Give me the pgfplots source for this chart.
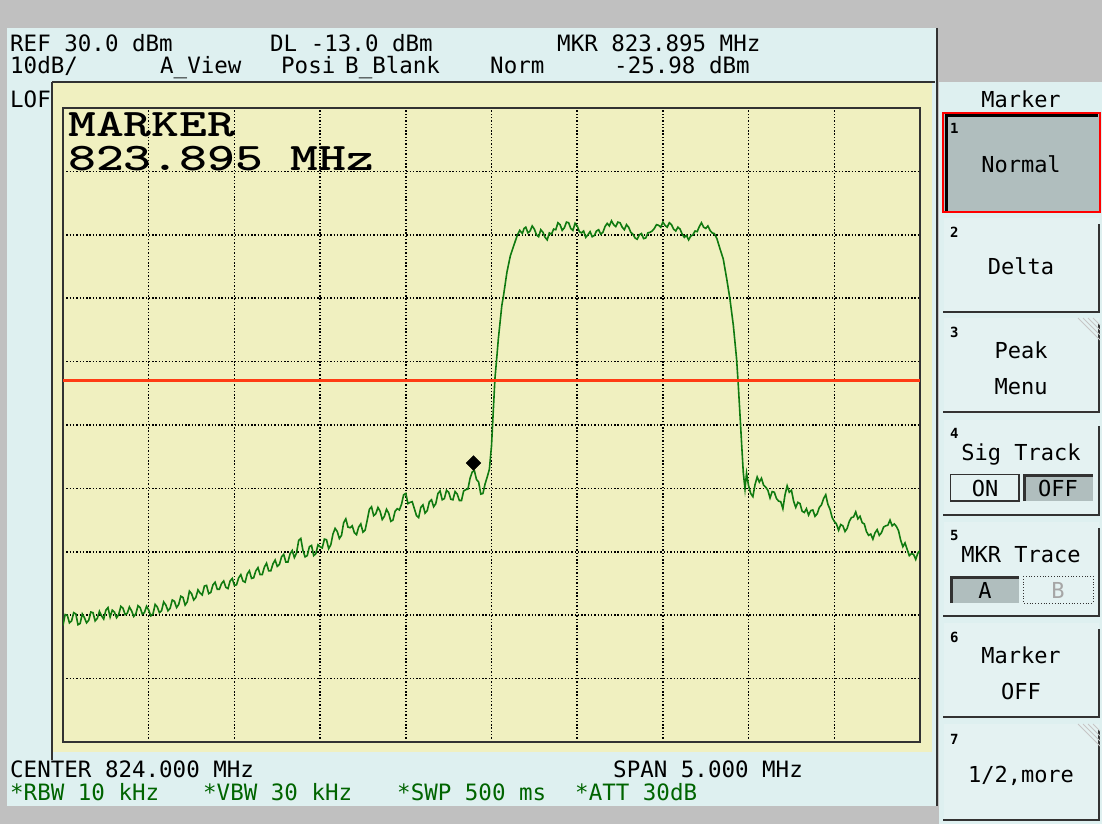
\documentclass[border=0pt]{standalone}
\usepackage{pgfplots}
\pgfplotsset{compat=1.18}
\usepackage{pgfplotstable}
\usepackage{fontspec}
\setmainfont{DejaVu Sans}
\newfontfamily\scr{DejaVu Sans Mono}
\definecolor{panel}{RGB}{222,240,240}
\definecolor{band}{RGB}{192,192,192}
\definecolor{plotbg}{RGB}{240,240,192}
\definecolor{trace}{RGB}{16,122,16}
\definecolor{dlred}{RGB}{255,60,20}
\definecolor{btngray}{RGB}{176,190,190}
\definecolor{txtgreen}{RGB}{0,100,0}
\definecolor{frame}{RGB}{50,50,50}
\definecolor{face}{RGB}{228,242,242}

\pgfplotstableread{
f p
821.500 -51.6
821.5125 -49.9
821.525 -50.0
821.5375 -51.2
821.550 -50.9
821.5625 -49.6
821.575 -49.8
821.5875 -51.5
821.600 -51.3
821.6125 -49.8
821.625 -50.4
821.6375 -51.2
821.650 -50.8
821.6625 -49.5
821.675 -49.6
821.6875 -50.9
821.700 -50.5
821.7125 -49.4
821.725 -50.1
821.7375 -50.6
821.750 -49.2
821.7625 -48.8
821.775 -50.3
821.7875 -49.2
821.800 -49.5
821.8125 -50.4
821.825 -49.9
821.8375 -48.6
821.850 -48.9
821.8625 -49.9
821.875 -49.7
821.8875 -48.7
821.900 -49.3
821.9125 -50.2
821.925 -49.8
821.9375 -48.5
821.950 -48.8
821.9625 -49.8
821.975 -49.6
821.9875 -48.6
822.000 -49.2
822.0125 -50.1
822.025 -49.8
822.0375 -48.3
822.050 -48.7
822.0625 -49.6
822.075 -49.3
822.0875 -47.9
822.100 -48.4
822.1125 -49.3
822.125 -48.9
822.1375 -47.6
822.150 -47.8
822.1625 -48.8
822.175 -48.3
822.1875 -47.0
822.200 -47.2
822.2125 -48.4
822.225 -47.9
822.2375 -46.2
822.250 -46.6
822.2625 -47.6
822.275 -47.2
822.2875 -46.0
822.300 -46.5
822.3125 -46.8
822.325 -45.4
822.3375 -45.3
822.350 -46.6
822.3625 -46.4
822.375 -45.2
822.3875 -44.8
822.400 -45.9
822.4125 -45.9
822.425 -45.0
822.4375 -44.6
822.450 -45.6
822.4625 -45.8
822.475 -44.6
822.4875 -44.2
822.500 -45.3
822.5125 -45.2
822.525 -44.1
822.5375 -43.6
822.550 -44.6
822.5625 -44.8
822.575 -43.5
822.5875 -43.0
822.600 -44.2
822.6125 -44.1
822.625 -43.0
822.6375 -42.5
822.650 -43.6
822.6625 -43.6
822.675 -42.4
822.6875 -41.8
822.700 -43.0
822.7125 -43.0
822.725 -41.9
822.7375 -41.3
822.750 -42.3
822.7625 -42.0
822.775 -40.8
822.7875 -40.4
822.800 -41.6
822.8125 -41.6
822.825 -40.3
822.8375 -39.8
822.850 -40.9
822.8625 -40.2
822.875 -38.2
822.8875 -37.9
822.900 -39.8
822.9125 -40.8
822.925 -40.6
822.9375 -39.2
822.950 -39.0
822.9625 -40.6
822.975 -40.3
822.9875 -38.9
823.000 -39.2
823.0125 -39.4
823.025 -38.0
823.0375 -38.1
823.050 -39.5
823.0625 -38.9
823.075 -37.2
823.0875 -36.3
823.100 -36.8
823.1125 -37.9
823.125 -37.4
823.1375 -35.4
823.150 -34.8
823.1625 -36.1
823.175 -36.2
823.1875 -35.9
823.200 -37.0
823.2125 -37.3
823.225 -36.1
823.2375 -35.6
823.250 -36.9
823.2625 -36.6
823.275 -35.0
823.2875 -33.3
823.300 -32.9
823.3125 -34.3
823.325 -34.0
823.3375 -33.0
823.350 -33.6
823.3625 -34.9
823.375 -34.4
823.3875 -33.3
823.400 -33.9
823.4125 -35.2
823.425 -35.0
823.4375 -33.6
823.450 -33.2
823.4625 -33.4
823.475 -32.5
823.4875 -31.0
823.500 -30.8
823.5125 -32.4
823.525 -32.2
823.5375 -32.1
823.550 -33.2
823.5625 -34.3
823.575 -34.6
823.5875 -33.0
823.600 -32.6
823.6125 -33.9
823.625 -33.5
823.6375 -32.1
823.650 -31.8
823.6625 -32.9
823.675 -32.4
823.6875 -30.8
823.700 -30.4
823.7125 -31.8
823.725 -31.6
823.7375 -30.3
823.750 -30.6
823.7625 -31.7
823.775 -31.8
823.7875 -30.5
823.800 -30.9
823.8125 -31.9
823.825 -31.9
823.8375 -30.4
823.850 -30.2
823.8625 -30.1
823.875 -28.4
823.8875 -27.4
823.900 -27.2
823.9125 -28.6
823.925 -29.0
823.9375 -30.9
823.950 -30.8
823.9625 -29.3
823.975 -28.2
823.9875 -27.0
824.000 -23.3
824.010 -18.0
824.020 -12.7
824.030 -9.6
824.040 -6.4
824.050 -3.8
824.060 -1.2
824.070 0.4
824.090 4.1
824.110 6.7
824.130 8.3
824.150 9.9
824.165 10.7
824.180 10.2
824.190 11.0
824.200 11.2
824.2125 10.3
824.225 10.6
824.2375 11.4
824.250 10.9
824.2625 10.0
824.275 9.7
824.2875 10.8
824.300 10.4
824.3125 9.6
824.325 9.2
824.3375 10.3
824.350 10.1
824.3625 10.9
824.375 10.8
824.3875 11.9
824.400 11.6
824.4125 10.7
824.425 11.1
824.4375 12.0
824.450 11.9
824.4625 11.0
824.475 10.7
824.4875 11.8
824.500 11.4
824.5125 10.5
824.525 10.3
824.5375 10.6
824.550 9.6
824.5625 10.0
824.575 10.5
824.5875 9.7
824.600 9.9
824.6125 10.6
824.625 10.8
824.6375 10.1
824.650 10.4
824.6625 11.3
824.675 11.8
824.6875 11.4
824.700 12.2
824.7125 11.6
824.725 11.3
824.7375 12.0
824.750 11.9
824.7625 11.2
824.775 10.8
824.7875 11.6
824.800 11.2
824.8125 10.4
824.825 10.1
824.8375 9.5
824.850 9.3
824.8625 10.0
824.875 10.2
824.8875 9.4
824.900 9.5
824.9125 10.3
824.925 10.4
824.9375 10.6
824.950 11.0
824.9625 11.6
824.975 11.5
824.9875 11.2
825.000 12.0
825.0125 11.5
825.025 11.2
825.0375 11.9
825.050 11.6
825.0625 10.9
825.075 10.6
825.0875 11.2
825.100 10.9
825.1125 10.1
825.125 9.6
825.1375 9.9
825.150 9.2
825.1625 9.8
825.175 10.0
825.1875 10.6
825.200 10.5
825.2125 11.3
825.225 11.9
825.2375 11.2
825.250 11.0
825.2625 11.4
825.275 10.7
825.2875 10.3
825.300 10.2
825.315 9.4
825.333 7.8
825.352 6.2
825.372 3.1
825.391 -0.1
825.411 -4.3
825.430 -9.6
825.440 -13.8
825.450 -18.5
825.460 -23.3
825.469 -27.5
825.479 -30.1
825.488 -27.6
825.500 -29.6
825.5125 -30.8
825.525 -31.3
825.5375 -29.4
825.550 -28.2
825.5625 -29.0
825.575 -28.4
825.5875 -29.5
825.600 -29.8
825.6125 -30.3
825.625 -31.5
825.6375 -30.5
825.650 -30.6
825.6625 -31.6
825.675 -32.0
825.6875 -32.1
825.700 -33.2
825.7125 -31.0
825.725 -29.6
825.7375 -30.6
825.750 -30.3
825.7625 -32.0
825.775 -33.0
825.7875 -32.2
825.800 -32.4
825.8125 -33.6
825.825 -33.8
825.8375 -33.2
825.850 -34.2
825.8625 -33.5
825.875 -33.4
825.8875 -34.4
825.900 -34.0
825.9125 -33.0
825.925 -32.6
825.9375 -31.6
825.950 -31.0
825.9625 -32.5
825.975 -33.3
825.9875 -34.6
826.000 -35.2
826.0125 -35.6
826.025 -36.6
826.0375 -35.7
826.050 -35.9
826.0625 -36.8
826.075 -36.3
826.0875 -35.2
826.100 -34.6
826.1125 -34.5
826.125 -33.7
826.1375 -34.8
826.150 -34.4
826.1625 -35.4
826.175 -35.6
826.1875 -36.8
826.200 -37.4
826.2125 -37.2
826.225 -38.0
826.2375 -37.0
826.250 -36.5
826.2625 -37.4
826.275 -37.0
826.2875 -36.1
826.300 -35.9
826.3125 -35.8
826.325 -35.0
826.3375 -35.9
826.350 -35.6
826.3625 -36.0
826.375 -36.7
826.3875 -38.2
826.400 -39.2
826.4125 -38.6
826.425 -39.6
826.4375 -40.6
826.450 -40.3
826.4625 -40.4
826.475 -41.2
826.4875 -40.2
826.500 -39.8
}\tracedata

\newcommand\btn[2]{%
  \fill[face] (944,#1) rectangle (1099,#2);
  \draw[frame,line width=2.5pt] (943,#2) -- (1099,#2) -- (1099,#1+6);
}
\newcommand\hatch[1]{%
  \foreach \k in {0,5,10,15}{\draw[gray!45,line width=0.8pt] (1078+\k,#1) -- (1100,#1+22-\k);}
}

\begin{document}
\begin{tikzpicture}
\begin{scope}[x=1pt,y=-1pt]
\fill[band] (0,0) rectangle (1102,824);
\fill[panel] (7,28) rectangle (937,806);
\fill[panel] (939,82) rectangle (1102,824);
\fill[plotbg] (53,83) rectangle (932,752);
\draw[frame,line width=1.5pt] (52,82) -- (935,82);
\draw[frame,line width=1.5pt] (52,82) -- (52,760);
\draw[frame,line width=2pt] (937,28) -- (937,806);
\begin{scope}[every node/.style={anchor=base west,inner sep=0pt,font=\scr\fontsize{22.5}{24}\selectfont}]
\node at (10,52) {REF 30.0 dBm};
\node at (270,52) {DL -13.0 dBm};
\node at (557,52) {MKR 823.895 MHz};
\node at (10,74) {10dB/};
\node at (160,74) {A\_View};
\node at (281,74) {Posi};
\node at (345,74) {B\_Blank};
\node at (490,74) {Norm};
\node at (614,74) {-25.98 dBm};
\node at (10,107) {LOF};
\node at (10,777) {CENTER 824.000 MHz};
\node at (613,777) {SPAN 5.000 MHz};
\node[text=txtgreen] at (10,800) {*RBW 10 kHz};
\node[text=txtgreen] at (203,800) {*VBW 30 kHz};
\node[text=txtgreen] at (397,800) {*SWP 500 ms};
\node[text=txtgreen] at (575,800) {*ATT 30dB};
\end{scope}
% right panel buttons
\fill[btngray] (943,113) rectangle (1100,212);
\draw[black,line width=3pt] (946,211) -- (946,116) -- (1098,116);
\draw[red,line width=1.5pt] (943,113) rectangle (1100,212);
\btn{218}{312}
\btn{318}{412}\hatch{318}
\btn{420}{515}
\btn{522}{616}
\btn{623}{717}
\btn{724}{820}\hatch{724}
% ON / OFF
\fill[face] (950,474) rectangle (1019,501);
\draw[frame,line width=1pt] (950,501) -- (950,474) -- (1019,474);
\draw[frame,line width=2pt] (950,501) -- (1019,501) -- (1019,474);
\fill[btngray] (1023,474) rectangle (1093,501);
\draw[frame,line width=3pt] (1024,501) -- (1024,475) -- (1093,475);
% A / B
\fill[btngray] (950,576) rectangle (1019,603);
\draw[frame,line width=3pt] (951,603) -- (951,577) -- (1019,577);
\draw[frame,line width=0.8pt,dotted] (1023,576) rectangle (1093,603);
\begin{scope}[every node/.style={anchor=base,inner sep=0pt,font=\scr\fontsize{22}{24}\selectfont}]
\node at (1021,108) {Marker};
\node at (1021,172) {Normal};
\node at (1021,274) {Delta};
\node at (1021,358) {Peak};
\node at (1021,394) {Menu};
\node at (1021,460) {Sig Track};
\node at (985,496) {ON};
\node at (1058,496) {OFF};
\node at (1021,562) {MKR Trace};
\node at (985,598) {A};
\node[text=gray!70] at (1058,598) {B};
\node at (1021,663) {Marker};
\node at (1021,699) {OFF};
\node at (1021,782) {1/2,more};
\end{scope}
\begin{scope}[every node/.style={anchor=base west,inner sep=0pt,font=\scr\bfseries\fontsize{14}{15}\selectfont}]
\node at (950,134) {1};
\node at (950,237) {2};
\node at (950,337) {3};
\node at (950,438) {4};
\node at (950,540) {5};
\node at (950,642) {6};
\node at (950,744) {7};
\end{scope}
\end{scope}

\begin{axis}[
  at={(63pt,-108pt)}, anchor=north west,
  width=857pt, height=634pt, scale only axis,
  xmin=821.5, xmax=826.5, ymin=-70, ymax=30,
  xtick={821.5,822,822.5,823,823.5,824,824.5,825,825.5,826,826.5},
  ytick={-70,-60,-50,-40,-30,-20,-10,0,10,20,30},
  xticklabels={}, yticklabels={},
  major tick length=0pt,
  grid=major,
  grid style={black, line width=1.5pt, dash pattern=on 1.4pt off 1.9pt},
  axis line style={draw=frame, line width=2pt},
  clip=true,
]
\addplot[trace, line width=1.6pt] table[x=f,y=p]{\tracedata};
\addplot[dlred, line width=3pt] coordinates {(821.5,-13) (826.5,-13)};
\addplot[only marks, mark=square*, mark size=5.2pt, mark options={rotate=45, fill=black, draw=black}] coordinates {(823.895,-25.98)};
\end{axis}

\begin{scope}[x=1pt,y=-1pt]
\node[anchor=base west,inner sep=0pt,align=left,font=\ttfamily\bfseries\fontsize{39}{34}\selectfont] at (68,170) {\scalebox{1.36}[1]{MARKER}\\\scalebox{1.36}[1]{823.895 MHz}};
\end{scope}
\pgfresetboundingbox
\path[use as bounding box] (0pt,0pt) rectangle (1102pt,-824pt);
\end{tikzpicture}
\end{document}
